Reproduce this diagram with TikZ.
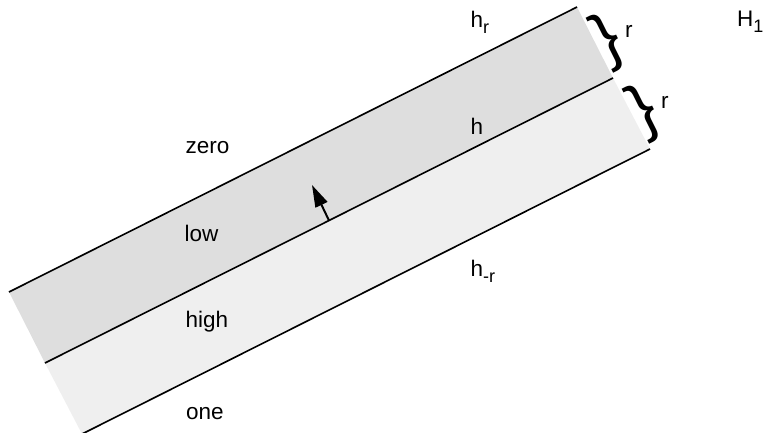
\documentclass[tikz,border=0pt]{standalone}
\usepackage{fontspec}
\setmainfont{Liberation Sans}
\usetikzlibrary{arrows.meta}
\definecolor{bandA}{HTML}{DEDEDE}
\definecolor{bandB}{HTML}{EFEFEF}
\newcommand\lowsub[1]{\raisebox{-6pt}{\fontsize{18}{18}\selectfont #1}}
\begin{document}
\begin{tikzpicture}[x=1pt,y=-1pt,
  lbl/.style={inner sep=0pt,anchor=base west,font=\fontsize{22.5}{24}\selectfont},
  edgeline/.style={line width=1.6pt},
  brc/.style={inner sep=0pt,anchor=center,rotate=26.57,font=\fontsize{66}{66}\selectfont}]
\useasboundingbox (0,0) rectangle (767,432);
\clip (0,0) rectangle (767,432);
\coordinate (t0) at (9,292);  \coordinate (t1) at (577,7);
\coordinate (m0) at (45,363); \coordinate (m1) at (613,78);
\coordinate (b0) at (82,434); \coordinate (b1) at (650,149);
\fill[bandA] (t0) -- (t1) -- (m1) -- (m0) -- cycle;
\fill[bandB] (m0) -- (m1) -- (b1) -- (b0) -- cycle;
\draw[edgeline] (t0) -- (t1);
\draw[edgeline] (m0) -- (m1);
\draw[edgeline] (b0) -- (b1);
% normal arrow
\coordinate (a0) at (329,220.5);
\coordinate (a1) at (312,185);
\draw[line width=2pt,-{Triangle[length=22pt,width=13pt]}] (a0) -- (a1);
% braces
\node[brc] (br1) at (608.5,41) {\}};
\node[brc] (br2) at (644.5,112) {\}};
% labels
\node[lbl] (zero) at (185.5,153) {zero};
\node[lbl] (low)  at (184.5,241) {low};
\node[lbl] (high) at (185.5,327) {high};
\node[lbl] (one)  at (186,419) {one};
\node[lbl] (hr)   at (470.5,27) {h\lowsub{r}};
\node[lbl] (h)    at (470.5,134) {h};
\node[lbl] (hmr)  at (470.5,276) {h\lowsub{-r}};
\node[lbl] (H1)   at (737,26) {H\lowsub{1}};
\node[lbl] (r1)   at (625,37) {r};
\node[lbl] (r2)   at (661,108) {r};
\end{tikzpicture}
\end{document}
